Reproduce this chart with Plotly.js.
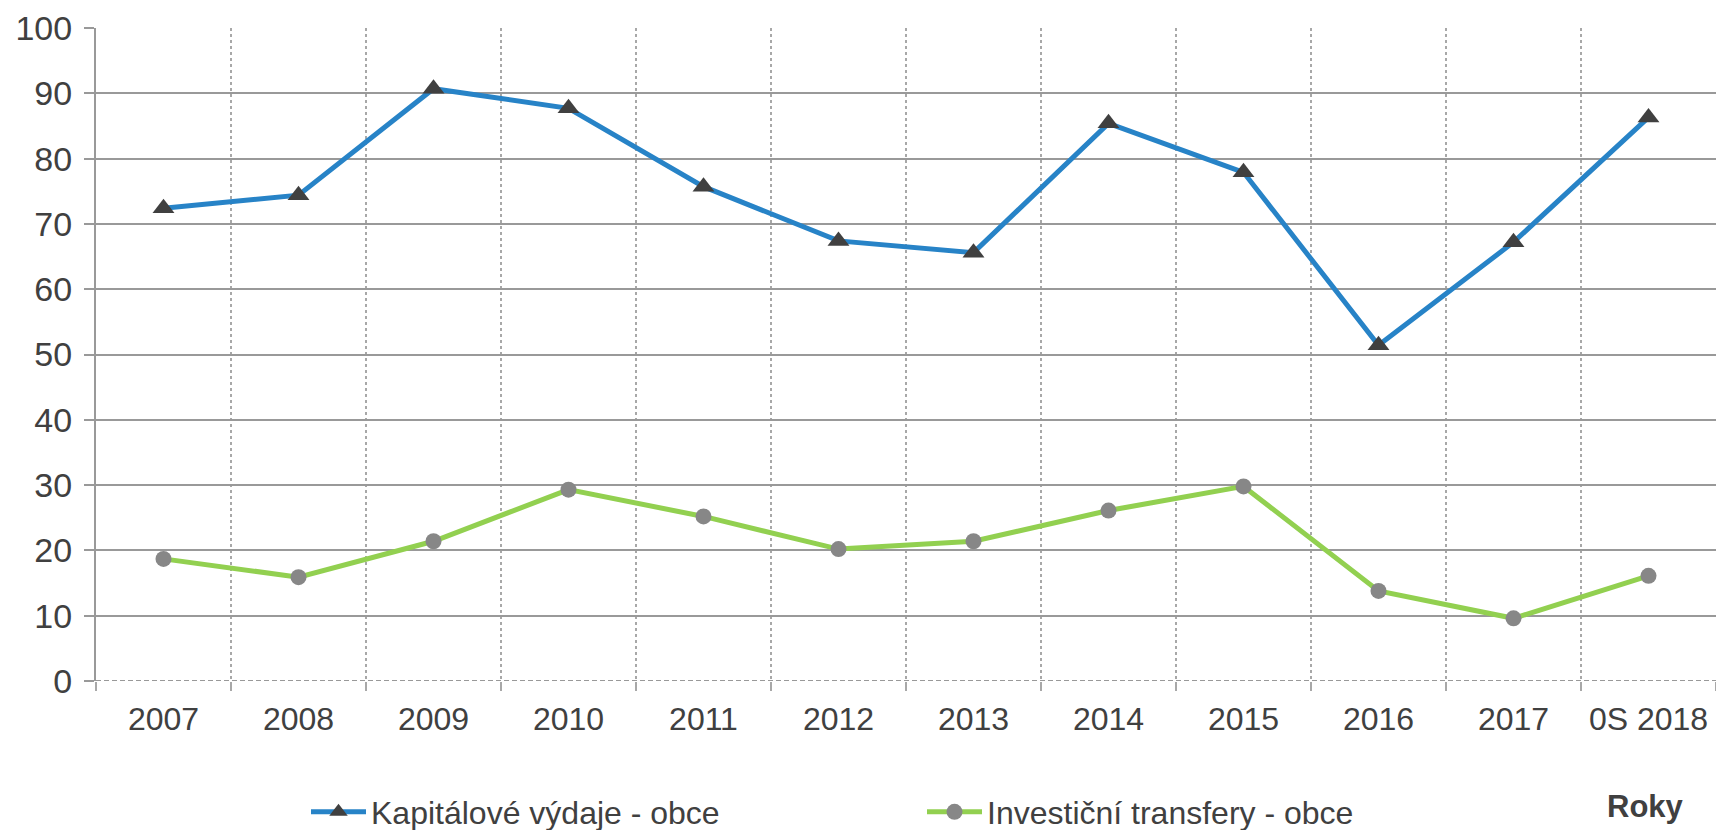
<!DOCTYPE html>
<html>
<head>
<meta charset="utf-8">
<script src="https://cdn.plot.ly/plotly-3.0.1.min.js"></script>
<style>
  html, body { margin: 0; padding: 0; background: #fff; }
  #chart { width: 1716px; height: 830px; }
</style>
</head>
<body>
<div id="chart"></div>
<script>
const categories = ['2007', '2008', '2009', '2010', '2011', '2012', '2013', '2014', '2015', '2016', '2017', '0S 2018'];
const kapitaloveVydaje = [72.4, 74.4, 90.7, 87.7, 75.7, 67.4, 65.6, 85.4, 77.9, 51.4, 67.2, 86.3];
const investicniTransfery = [18.7, 15.9, 21.4, 29.3, 25.2, 20.2, 21.4, 26.1, 29.8, 13.8, 9.6, 16.1];
const seriesNames = ['Kapitálové výdaje - obce', 'Investiční transfery - obce'];
const yTicks = [0, 10, 20, 30, 40, 50, 60, 70, 80, 90, 100];
const axisTitle = 'Roky';

const FONT = 'Liberation Sans, Arial, sans-serif';
const TXT = '#404040';

const traces = [
  {
    x: categories, y: kapitaloveVydaje, name: seriesNames[0],
    type: 'scatter', mode: 'lines+markers',
    line: { color: '#2783C7', width: 5 },
    marker: { symbol: 'triangle-up', size: 19, color: '#404040' }
  },
  {
    x: categories, y: investicniTransfery, name: seriesNames[1],
    type: 'scatter', mode: 'lines+markers',
    line: { color: '#92D050', width: 5 },
    marker: { symbol: 'circle', size: 16, color: '#878787' }
  }
];

const layout = {
  width: 1716, height: 830,
  margin: { l: 96, r: 0, t: 28, b: 149 },
  paper_bgcolor: '#fff', plot_bgcolor: '#fff',
  font: { family: FONT, color: TXT, size: 32 },
  showlegend: true,
  legend: {
    orientation: 'h',
    xref: 'container', yref: 'container',
    x: 306 / 1716, xanchor: 'left',
    y: (830 - 812) / 830, yanchor: 'middle',
    font: { family: FONT, size: 32, color: TXT },
    itemwidth: 55,
    entrywidth: 546, entrywidthmode: 'pixels',
    bgcolor: 'rgba(0,0,0,0)'
  },
  xaxis: {
    type: 'category',
    categoryorder: 'array', categoryarray: categories,
    range: [-0.5, categories.length - 0.5],
    tickson: 'boundaries',
    showgrid: true, gridcolor: '#A8A8A8', gridwidth: 1.5, griddash: '3px,3px',
    ticks: 'outside', ticklen: 9, tickcolor: '#A8A8A8', tickwidth: 1.5,
    showline: false, zeroline: false,
    tickfont: { family: FONT, size: 32, color: TXT },
    ticklabelstandoff: 16,
    fixedrange: true
  },
  yaxis: {
    range: [0, 100],
    tickvals: yTicks,
    ticktext: yTicks.map(String),
    showgrid: true, gridcolor: '#999999', gridwidth: 2,
    zeroline: true, zerolinecolor: '#ffffff', zerolinewidth: 3,
    showline: true, linecolor: '#999999', linewidth: 2,
    ticks: 'outside', ticklen: 10, tickcolor: '#999999', tickwidth: 2,
    tickfont: { family: FONT, size: 34, color: TXT },
    ticklabelstandoff: 5,
    fixedrange: true
  },
  shapes: [
    { type: 'line', xref: 'paper', yref: 'y', x0: 0, x1: 1, y0: 0, y1: 0,
      line: { color: '#999999', width: 2, dash: '5px,3px' } }
  ],
  annotations: [
    { text: '<b>' + axisTitle + '</b>', xref: 'paper', yref: 'paper',
      x: (1645 - 96) / 1620, y: (681 - 806) / 653, xanchor: 'center', yanchor: 'middle',
      showarrow: false, font: { family: FONT, size: 31, color: TXT } }
  ]
};

Plotly.newPlot('chart', traces, layout, { staticPlot: true, displayModeBar: false });
</script>
</body>
</html>
